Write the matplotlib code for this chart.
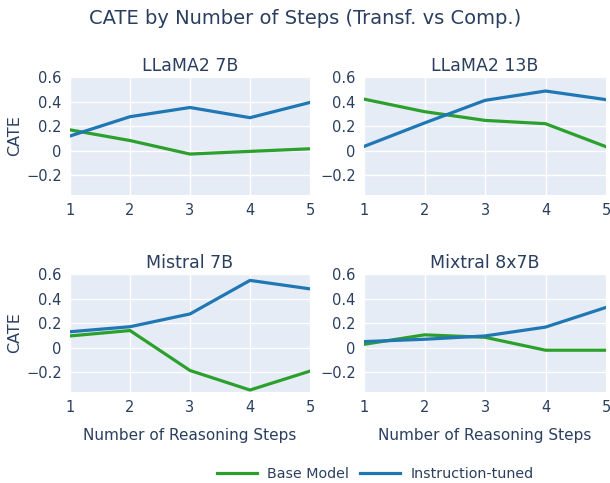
import matplotlib
matplotlib.use('Agg')
import matplotlib.pyplot as plt
from matplotlib.lines import Line2D

plt.rcParams['font.family'] = ['DejaVu Sans']

steps = [1, 2, 3, 4, 5]
models = ['LLaMA2 7B', 'LLaMA2 13B', 'Mistral 7B', 'Mixtral 8x7B']
base_model = [
    [0.17, 0.083, -0.027, -0.005, 0.016],
    [0.42, 0.318, 0.247, 0.22, 0.033],
    [0.096, 0.14, -0.185, -0.344, -0.19],
    [0.028, 0.105, 0.085, -0.02, -0.02],
]
instruction_tuned = [
    [0.12, 0.277, 0.352, 0.269, 0.393],
    [0.035, 0.226, 0.41, 0.486, 0.416],
    [0.13, 0.171, 0.275, 0.548, 0.479],
    [0.05, 0.069, 0.096, 0.168, 0.328],
]

txt = '#2a3f5f'
green = '#2ca02c'
blue = '#1f77b4'

W, H = 610, 483
fig = plt.figure(figsize=(W / 100, H / 100), dpi=100)

# axes boxes in pixels: left, top, right, bottom
boxes = [(70, 77, 310, 195), (364, 77, 606, 195),
         (70, 274, 310, 392), (364, 274, 606, 392)]

for i, (l, t, r, b) in enumerate(boxes):
    ax = fig.add_axes([l / W, 1 - b / H, (r - l) / W, (b - t) / H])
    ax.set_facecolor('#E5ECF6')
    ax.plot(steps, base_model[i], color=green, lw=2.3, solid_joinstyle='round')
    ax.plot(steps, instruction_tuned[i], color=blue, lw=2.3, solid_joinstyle='round')
    ax.set_xlim(1, 5)
    ax.set_ylim(-0.36, 0.6)
    ax.set_xticks(steps)
    ax.set_yticks([-0.2, 0, 0.2, 0.4, 0.6])
    ax.set_yticklabels(['\u22120.2', '0', '0.2', '0.4', '0.6'])
    ax.grid(color='white', lw=1)
    ax.set_axisbelow(True)
    for s in ax.spines.values():
        s.set_visible(False)
    ax.tick_params(length=0, labelsize=10.5, labelcolor=txt, pad=6)
    ax.set_title(models[i], color=txt, fontsize=12.5, pad=4)
    if i % 2 == 0:
        ax.set_ylabel('CATE', color=txt, fontsize=11.5, labelpad=3)
    if i >= 2:
        ax.set_xlabel('Number of Reasoning Steps', color=txt, fontsize=11, labelpad=9)

fig.text(0.5, 1 - 18 / H, 'CATE by Number of Steps (Transf. vs Comp.)',
         ha='center', va='center', color=txt, fontsize=14)

handles = [Line2D([], [], color=green, lw=2.3), Line2D([], [], color=blue, lw=2.3)]
fig.legend(handles, ['Base Model', 'Instruction-tuned'], loc='center',
           bbox_to_anchor=(375 / W, 1 - 474 / H), ncol=2, frameon=False,
           fontsize=10.3, labelcolor=txt, handlelength=2.8, handletextpad=0.7,
           columnspacing=0.8)

fig.savefig('out.png', dpi=100)
